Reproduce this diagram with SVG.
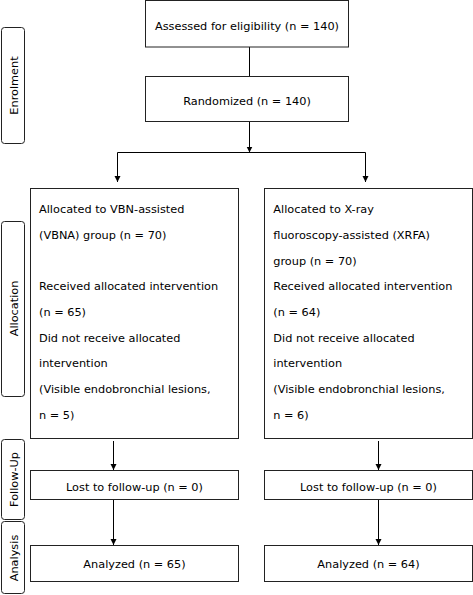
<svg xmlns="http://www.w3.org/2000/svg" width="473" height="595" viewBox="0 0 473 595">
<style>
  .box { fill: #fff; stroke: #222; stroke-width: 1; }
  .lab { fill: #fff; stroke: #222; stroke-width: 1; }
  .t { font-family: "DejaVu Sans", Verdana, sans-serif; font-size: 11.3px; fill: #000; }
  .c { text-anchor: middle; }
  .ln { fill: none; stroke: #000; stroke-width: 1; }
</style>
<defs>
  <marker id="ah" markerUnits="userSpaceOnUse" markerWidth="7" markerHeight="7" refX="6" refY="3" orient="auto">
    <path d="M0,0 L6,3 L0,6 z" fill="#000"/>
  </marker>
</defs>
<rect width="473" height="595" fill="#fff"/>

<g id="label-enrolment">
  <rect class="lab" x="1.5" y="27.5" width="23" height="116" rx="3"/>
  <text class="t c" transform="translate(17.5,85.5) rotate(-90)">Enrolment</text>
</g>
<g id="label-allocation">
  <rect class="lab" x="1.5" y="221.5" width="23" height="175" rx="3"/>
  <text class="t c" transform="translate(17.5,308.5) rotate(-90)">Allocation</text>
</g>
<g id="label-followup">
  <rect class="lab" x="1.5" y="439.5" width="23" height="80" rx="3"/>
  <text class="t c" transform="translate(17.5,479.5) rotate(-90)">Follow-Up</text>
</g>
<g id="label-analysis">
  <rect class="lab" x="1.5" y="521.5" width="23" height="72" rx="3"/>
  <text class="t c" transform="translate(17.5,558) rotate(-90)">Analysis</text>
</g>

<g id="connectors">
  <path class="ln" d="M249.5,47 V76"/>
  <path class="ln" d="M249.5,121.5 V152.5" marker-end="url(#ah)"/>
  <path class="ln" d="M117.5,152.5 H365.5"/>
  <path class="ln" d="M117.5,152.5 V182" marker-end="url(#ah)"/>
  <path class="ln" d="M365.5,152.5 V182" marker-end="url(#ah)"/>
  <path class="ln" d="M113.5,441 V470" marker-end="url(#ah)"/>
  <path class="ln" d="M378.5,441 V470" marker-end="url(#ah)"/>
  <path class="ln" d="M113.5,500 V545" marker-end="url(#ah)"/>
  <path class="ln" d="M378.5,500 V545" marker-end="url(#ah)"/>
</g>

<g id="assessed">
  <rect class="box" x="145.5" y="0.5" width="203" height="46.5"/>
  <text class="t c" x="247" y="30">Assessed for eligibility (n = 140)</text>
</g>
<g id="randomized">
  <rect class="box" x="145.5" y="76.5" width="203" height="45"/>
  <text class="t c" x="247" y="105.3">Randomized (n = 140)</text>
</g>

<g id="alloc-vbna">
  <rect class="box" x="30.5" y="188.5" width="208" height="250"/>
  <text class="t" x="39" y="213.3">Allocated to VBN-assisted</text>
  <text class="t" x="39" y="239">(VBNA) group (n = 70)</text>
  <text class="t" x="39" y="290.3">Received allocated intervention</text>
  <text class="t" x="39" y="316">(n = 65)</text>
  <text class="t" x="39" y="341.7">Did not receive allocated</text>
  <text class="t" x="39" y="367.3">intervention</text>
  <text class="t" x="39" y="393">(Visible endobronchial lesions,</text>
  <text class="t" x="39" y="418.7">n = 5)</text>
</g>
<g id="alloc-xrfa">
  <rect class="box" x="264.5" y="188.5" width="208" height="250"/>
  <text class="t" x="273.3" y="213.3">Allocated to X-ray</text>
  <text class="t" x="273.3" y="239">fluoroscopy-assisted (XRFA)</text>
  <text class="t" x="273.3" y="264.7">group (n = 70)</text>
  <text class="t" x="273.3" y="290.3">Received allocated intervention</text>
  <text class="t" x="273.3" y="316">(n = 64)</text>
  <text class="t" x="273.3" y="341.7">Did not receive allocated</text>
  <text class="t" x="273.3" y="367.3">intervention</text>
  <text class="t" x="273.3" y="393">(Visible endobronchial lesions,</text>
  <text class="t" x="273.3" y="418.7">n = 6)</text>
</g>

<g id="followup-vbna">
  <rect class="box" x="30.5" y="470.5" width="208" height="29"/>
  <text class="t c" x="134.5" y="491">Lost to follow-up (n = 0)</text>
</g>
<g id="followup-xrfa">
  <rect class="box" x="264.5" y="470.5" width="208" height="29"/>
  <text class="t c" x="368.5" y="491">Lost to follow-up (n = 0)</text>
</g>

<g id="analysis-vbna">
  <rect class="box" x="30.5" y="545.5" width="208" height="36"/>
  <text class="t c" x="134.5" y="567.5">Analyzed (n = 65)</text>
</g>
<g id="analysis-xrfa">
  <rect class="box" x="264.5" y="545.5" width="208" height="36"/>
  <text class="t c" x="368.5" y="567.5">Analyzed (n = 64)</text>
</g>
</svg>
